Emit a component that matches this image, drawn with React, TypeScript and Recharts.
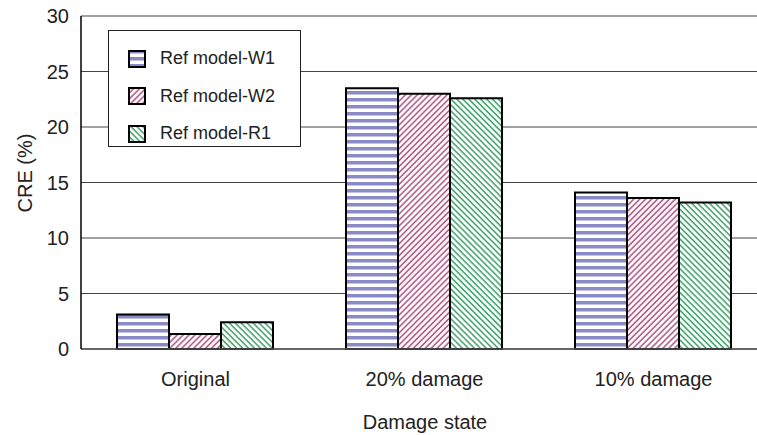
import React from 'react';
import { BarChart, Bar, XAxis, YAxis, CartesianGrid, Legend } from 'recharts';

const categories = ['Original', '20% damage', '10% damage'];
const refW1 = [3.1, 23.5, 14.1];
const refW2 = [1.35, 23.0, 13.6];
const refR1 = [2.4, 22.6, 13.2];
const yTicks = [0, 5, 10, 15, 20, 25, 30];

const seriesNames = ['Ref model-W1', 'Ref model-W2', 'Ref model-R1'];
const seriesKeys = ['w1', 'w2', 'r1'];
const patternIds = ['patW1', 'patW2', 'patR1'];

const data = categories.map((name, i) => ({
  name,
  w1: refW1[i],
  w2: refW2[i],
  r1: refR1[i],
}));

const font = '"Liberation Sans", Arial, Helvetica, sans-serif';
const textColor = '#222';

const Patterns = () => (
  <defs>
    <pattern id="patW1" patternUnits="userSpaceOnUse" width="8" height="7">
      <rect width="8" height="7" fill="#fff" />
      <rect y="0" width="8" height="3.5" fill="#8a8ac6" />
    </pattern>
    <pattern id="patW2" patternUnits="userSpaceOnUse" width="4.2" height="4.2" patternTransform="rotate(45)">
      <rect width="4.2" height="4.2" fill="#fff" />
      <line x1="1" y1="0" x2="1" y2="4.2" stroke="#b0507e" strokeWidth="1.5" />
    </pattern>
    <pattern id="patR1" patternUnits="userSpaceOnUse" width="4.2" height="4.2" patternTransform="rotate(-45)">
      <rect width="4.2" height="4.2" fill="#fff" />
      <line x1="1" y1="0" x2="1" y2="4.2" stroke="#3a9e66" strokeWidth="1.5" />
    </pattern>
  </defs>
);

const LegendBox = () => (
  <div
    style={{
      border: '1px solid #222',
      background: '#fff',
      width: 193,
      height: 117,
      boxSizing: 'border-box',
      paddingTop: 9,
      paddingLeft: 19,
    }}
  >
    {seriesNames.map((n, i) => (
      <div key={n} style={{ display: 'flex', alignItems: 'center', height: 37.5 }}>
        <svg width={18} height={18} style={{ display: 'block' }}>
          <rect x={1} y={1} width={16} height={16} fill={`url(#${patternIds[i]})`} stroke="#000" strokeWidth={2} />
        </svg>
        <span style={{ marginLeft: 14, fontSize: 18, color: textColor, fontFamily: font }}>{n}</span>
      </div>
    ))}
  </div>
);

const YLabel = () => (
  <text
    x={25}
    y={173}
    transform="rotate(-90 25 173)"
    textAnchor="middle"
    dominantBaseline="central"
    fontSize={20}
    fill={textColor}
    fontFamily={font}
  >
    CRE (%)
  </text>
);

const XLabel = () => (
  <text x={425} y={429} textAnchor="middle" fontSize={20} fill={textColor} fontFamily={font}>
    Damage state
  </text>
);

export default function App() {
  return (
    <div
      style={{
        position: 'absolute',
        left: 0,
        top: 0,
        width: 757,
        height: 435,
        overflow: 'hidden',
        background: '#fff',
        fontFamily: font,
      }}
    >
      <BarChart
        width={768}
        height={435}
        data={data}
        margin={{ top: 16, right: 0, left: 0, bottom: 0 }}
        barCategoryGap={36}
        barGap={0}
      >
        <Patterns />
        <CartesianGrid vertical={false} stroke="#444" strokeWidth={1.2} />
        <XAxis
          dataKey="name"
          height={86}
          axisLine={{ stroke: '#555', strokeWidth: 1.5 }}
          tickLine={false}
          tickMargin={17}
          tick={{ fontSize: 20, fill: textColor, fontFamily: font }}
          label={XLabel}
        />
        <YAxis
          width={81}
          domain={[0, 30]}
          ticks={yTicks}
          interval={0}
          axisLine={{ stroke: '#000', strokeWidth: 1.5 }}
          tickLine={false}
          tickMargin={6}
          tick={{ fontSize: 20, fill: textColor, fontFamily: font }}
          label={YLabel}
        />
        <Legend
          layout="horizontal"
          verticalAlign="middle"
          align="center"
          wrapperStyle={{ left: 108, top: 30, width: 193, height: 117 }}
          content={() => <LegendBox />}
        />
        {seriesKeys.map((k, i) => (
          <Bar
            key={k}
            dataKey={k}
            name={seriesNames[i]}
            fill={`url(#${patternIds[i]})`}
            stroke="#000"
            strokeWidth={2}
            isAnimationActive={false}
          />
        ))}
      </BarChart>
    </div>
  );
}
